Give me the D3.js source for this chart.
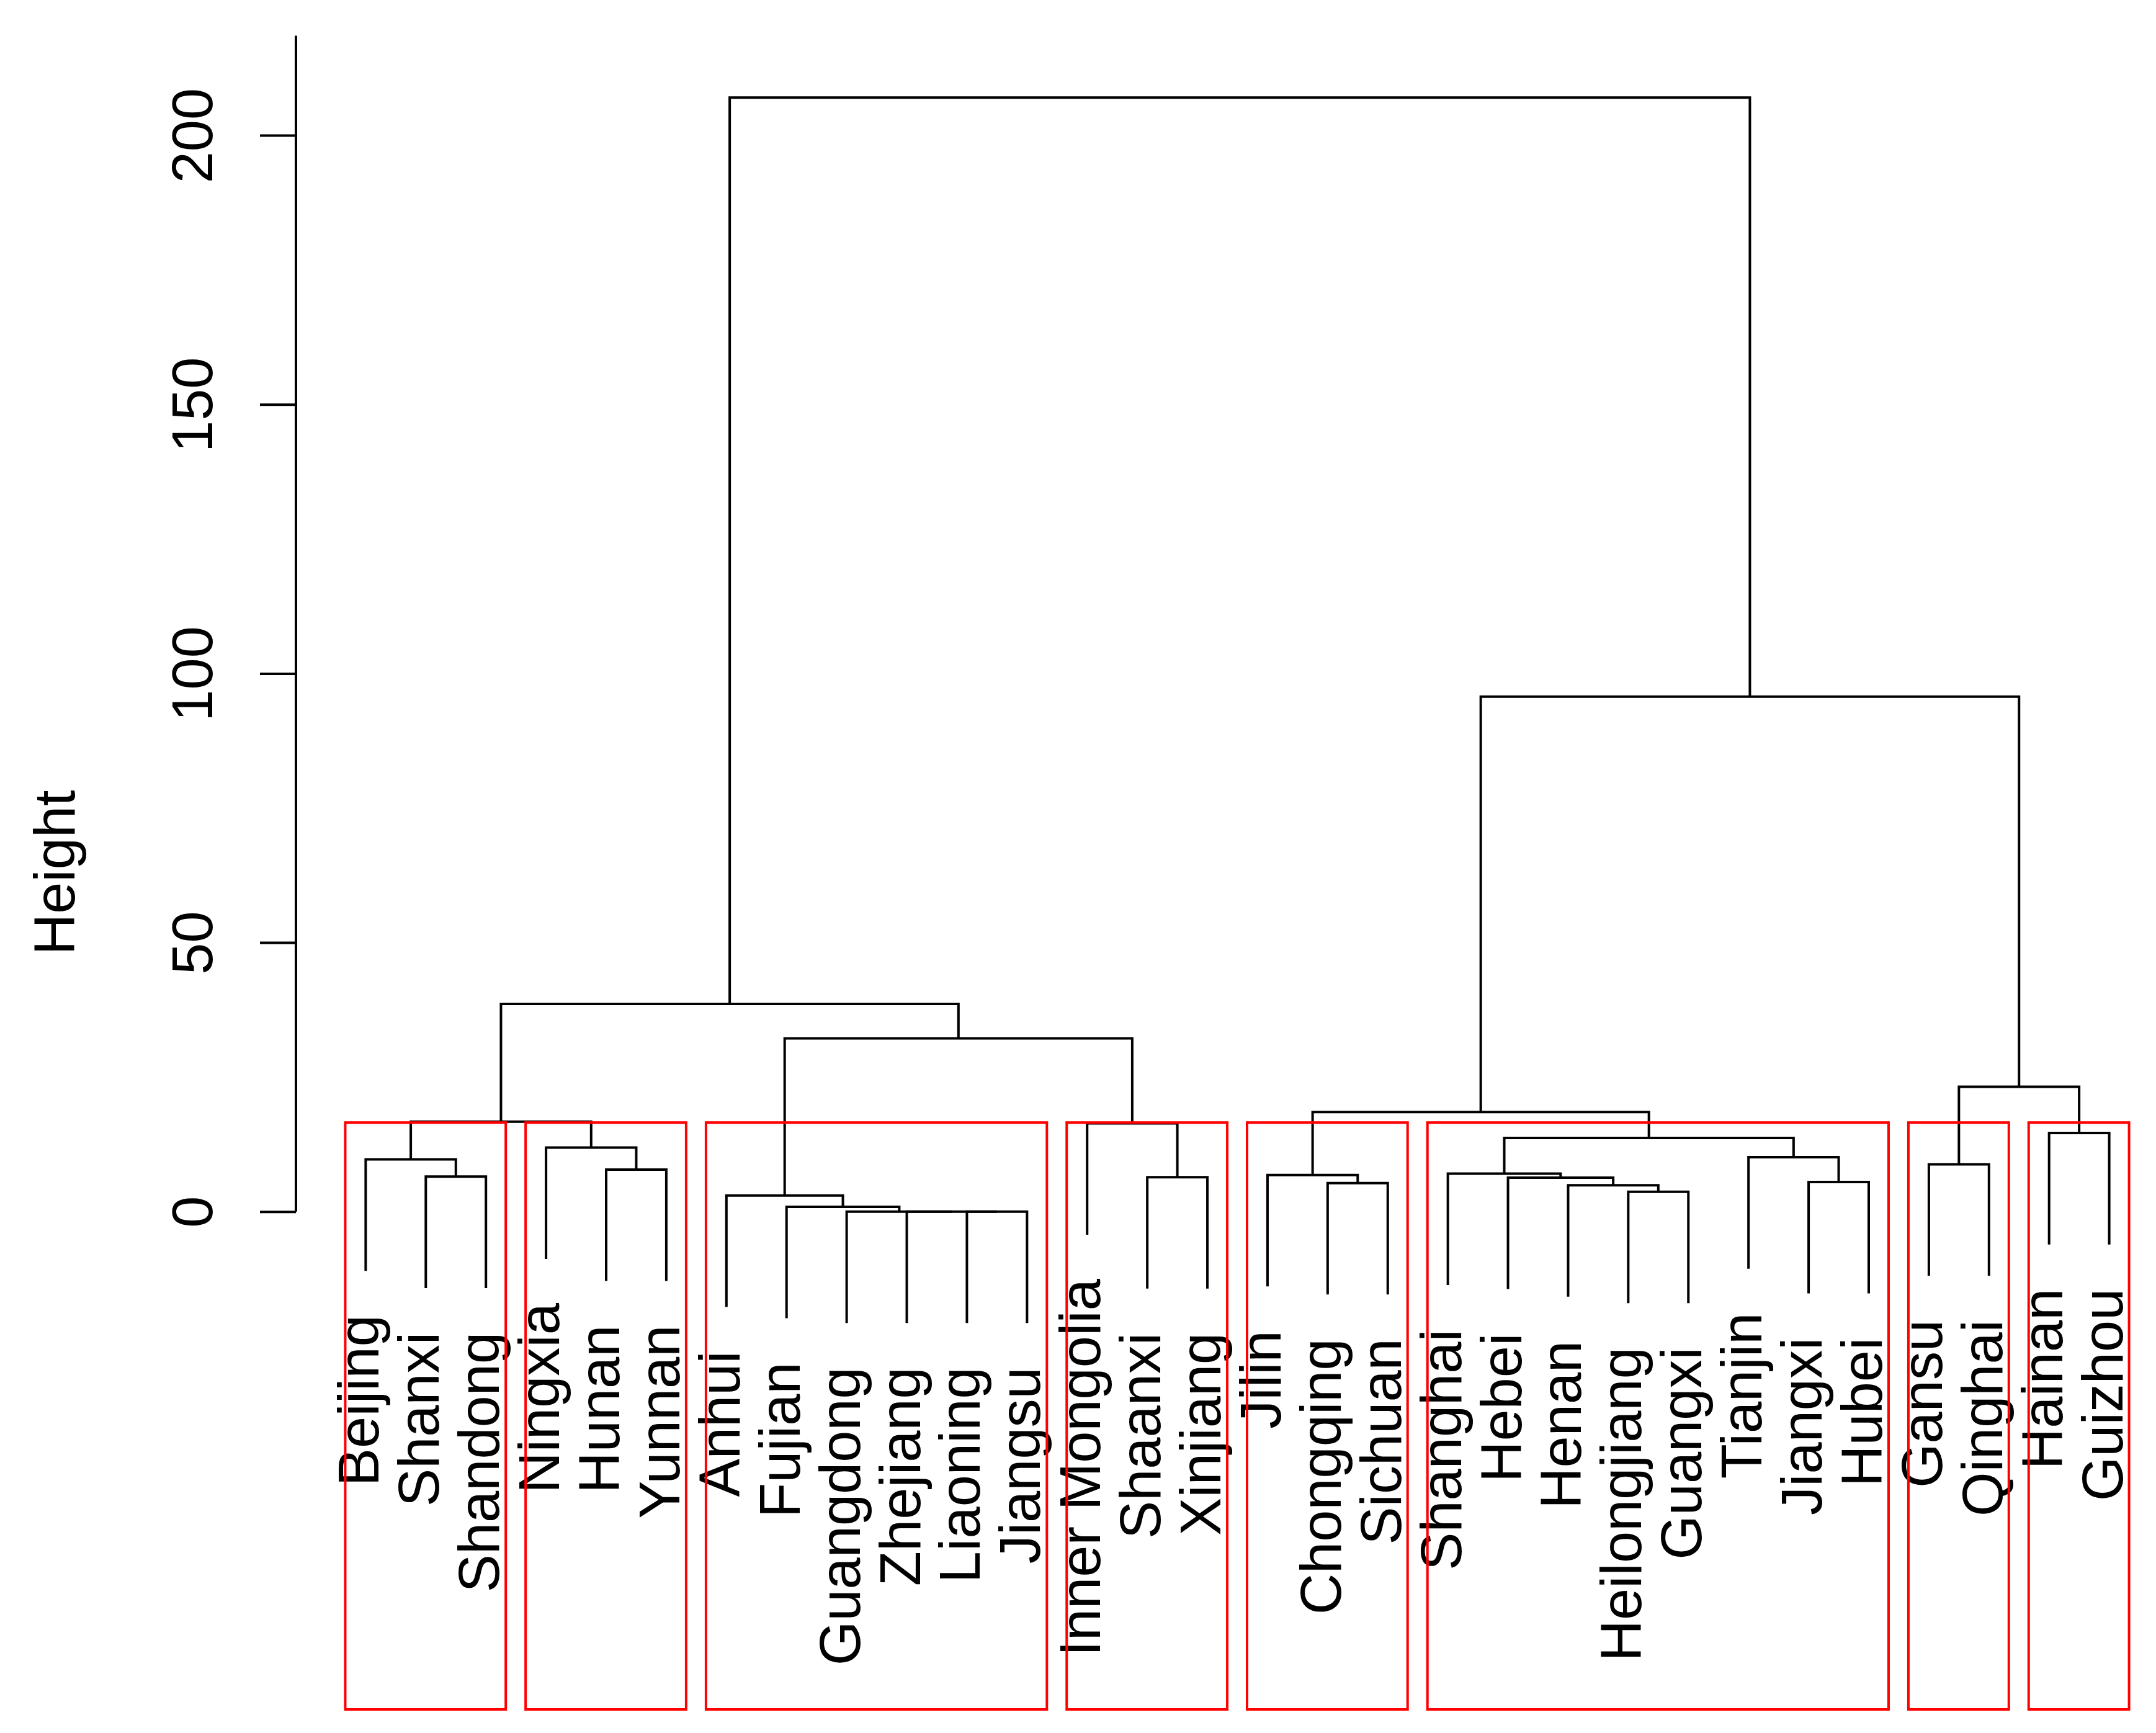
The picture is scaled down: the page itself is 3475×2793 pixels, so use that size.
<!DOCTYPE html>
<html><head><meta charset="utf-8">
<script src="https://cdn.jsdelivr.net/npm/d3@7"></script>
<style>html,body{margin:0;padding:0;background:#fff;} svg{display:block;background:#fff;}</style>
</head><body>
<svg id="chart" width="3475" height="2793"></svg>
<script>
// Leaf labels in dendrogram order
const labels = ["Beijing","Shanxi","Shandong","Ningxia","Hunan","Yunnan","Anhui","Fujian","Guangdong","Zhejiang","Liaoning","Jiangsu","Inner Mongolia","Shaanxi","Xinjiang","Jilin","Chongqing","Sichuan","Shanghai","Hebei","Henan","Heilongjiang","Guangxi","Tianjin","Jiangxi","Hubei","Gansu","Qinghai","Hainan","Guizhou"];
// R-style merge matrix: negative = leaf position (1-based), positive = earlier merge (1-based)
const mergePairs = [
  [-11,-12],[-10,1],[-9,2],[-8,3],[-7,4],
  [-22,-23],[-21,6],[-17,-18],[-25,-26],[-20,7],
  [-2,-3],[-14,-15],[-16,8],[-19,10],[-5,-6],
  [-27,-28],[-1,11],[-24,9],[-4,15],[14,18],
  [-29,-30],[-13,12],[17,19],[13,20],[16,21],
  [5,22],[23,26],[24,25],[27,28]
];
const mergeHeights = [
  0, 0, 0, 0.9, 3.0,
  3.7, 4.9, 5.3, 5.5, 6.3,
  6.5, 6.4, 6.8, 7.05, 7.8,
  8.8, 9.7, 10.1, 11.9, 13.7,
  14.6, 16.4, 16.7, 18.5, 23.2,
  32.2, 38.6, 95.7, 207.0
];
const yTicks = [0, 50, 100, 150, 200];
const yTitle = "Height";
const kClusters = 8;

const W = 3475, H = 2793;
const svg = d3.select("#chart");
const n = labels.length;
const font = "'Liberation Sans', Arial, sans-serif";
const fs = 92;

const x = d3.scaleLinear().domain([1 - 0.04 * (n - 1), n + 0.04 * (n - 1)]).range([477, 3512]);
const y = d3.scaleLinear().domain([-92.5, 218.5]).range([2755, 57.6]);

const hang = 0.1 * d3.max(mergeHeights);
const nodeX = [];
const cx = c => c < 0 ? x(-c) : nodeX[c - 1];
mergePairs.forEach(([a, b], i) => { nodeX[i] = (cx(a) + cx(b)) / 2; });
const leafBottom = new Array(n + 1);
mergePairs.forEach(([a, b], i) => {
  [a, b].forEach(c => { if (c < 0) leafBottom[-c] = mergeHeights[i] - hang; });
});
const topOf = c => c < 0 ? leafBottom[-c] : mergeHeights[c - 1];

// dendrogram
const gD = svg.append("g");
gD.selectAll("path").data(mergePairs).join("path")
  .attr("d", ([a, b], i) => `M${cx(a)},${y(topOf(a))}V${y(mergeHeights[i])}H${cx(b)}V${y(topOf(b))}`)
  .attr("fill", "none").attr("stroke", "#000").attr("stroke-width", 4)
  .attr("stroke-linejoin", "miter").attr("stroke-linecap", "butt");

// leaf labels
svg.append("g").selectAll("text").data(labels).join("text")
  .attr("transform", (d, i) => `translate(${x(i + 1) + 21},${y(leafBottom[i + 1]) + 71}) rotate(-90)`)
  .attr("text-anchor", "end")
  .attr("font-family", font).attr("font-size", fs).attr("fill", "#000")
  .text(d => d);

// clusters (rect.hclust, k)
const sortedH = mergeHeights.slice().sort((a, b) => b - a);
const cut = (sortedH[kClusters - 2] + sortedH[kClusters - 1]) / 2;
const clusters = [];
function leavesOf(c) { return c < 0 ? [-c] : leavesOf(mergePairs[c - 1][0]).concat(leavesOf(mergePairs[c - 1][1])); }
function collect(c) {
  if (c < 0 || mergeHeights[c - 1] < cut) { const l = leavesOf(c); clusters.push([d3.min(l), d3.max(l)]); }
  else { collect(mergePairs[c - 1][0]); collect(mergePairs[c - 1][1]); }
}
collect(mergePairs.length);
svg.append("g").selectAll("rect").data(clusters).join("rect")
  .attr("x", d => x(d[0] - 0.34))
  .attr("width", d => x(d[1] + 0.33) - x(d[0] - 0.34))
  .attr("y", y(cut))
  .attr("height", y(y.domain()[0]) - y(cut))
  .attr("fill", "none").attr("stroke", "#ff0000").attr("stroke-width", 4);

// y axis
const axisX = x(x.domain()[0]);
const gA = svg.append("g").attr("transform", `translate(${axisX},0)`)
  .call(d3.axisLeft(y).tickValues(yTicks).tickSize(58).tickSizeOuter(0).tickFormat(d3.format("d")));
gA.select(".domain").remove();
gA.selectAll(".tick line").attr("stroke", "#000").attr("stroke-width", 4);
gA.selectAll(".tick text")
  .attr("x", null).attr("dy", null)
  .attr("transform", "translate(-135,0) rotate(-90)")
  .attr("text-anchor", "middle")
  .attr("font-family", font).attr("font-size", fs).attr("fill", "#000");
gA.append("line").attr("x1", 0).attr("x2", 0)
  .attr("y1", y(0)).attr("y2", y(y.domain()[1]))
  .attr("stroke", "#000").attr("stroke-width", 4);

// y title
svg.append("text")
  .attr("transform", `translate(120,${(y.range()[0] + y.range()[1]) / 2}) rotate(-90)`)
  .attr("text-anchor", "middle")
  .attr("font-family", font).attr("font-size", fs).attr("fill", "#000")
  .text(yTitle);
</script>
</body></html>
